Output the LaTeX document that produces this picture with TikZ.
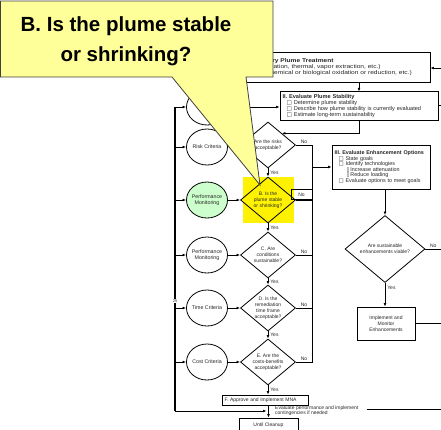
\documentclass[tikz,border=0pt]{standalone}
\usepackage{fontspec}
\setmainfont{Liberation Sans}
\newfontfamily\symfont{DejaVu Sans}
\newfontfamily\widefont[FakeStretch=1.2]{Liberation Sans}
\usetikzlibrary{arrows.meta, shapes.geometric}
\definecolor{mint}{HTML}{CCFFCC}
\definecolor{callout}{HTML}{FFFF99}
\newcommand{\bul}{\hspace*{4pt}{\symfont\char"25A1}\hspace{2pt}}
\newcommand{\subbul}{\hspace*{12pt}{\symfont\char"25AF}\hspace{1pt}}

\begin{document}
\begin{tikzpicture}[x=1pt, y=-1pt,
    txt/.style={font=\fontsize{5}{6}\selectfont, text=black!85, align=center},
    crit/.style={ellipse, draw, line width=0.8pt, fill=white, minimum width=41pt, minimum height=36pt, inner sep=0pt},
    dia/.style={diamond, draw, line width=0.8pt, fill=white, minimum width=55pt, minimum height=46pt, inner sep=0pt},
    box/.style={draw, line width=0.8pt, fill=white, inner sep=2.5pt, align=left, font=\fontsize{5}{6}\selectfont, text=black!85},
    flow/.style={line width=0.7pt, -{Latex[length=3.5pt, width=2.8pt]}},
    bus/.style={line width=1.2pt},
    yes/.style={font=\fontsize{5}{6}\selectfont, text=black!85, right, inner sep=2pt},
    no/.style={font=\fontsize{5}{6}\selectfont, text=black!85, above, inner sep=1pt}]

    \useasboundingbox (0,0) rectangle (441,429);

    \fill[yellow] (243,177) rectangle (294,223);

    \node (b1) [box, minimum width=185pt, minimum height=30pt, text width=180pt, font=\widefont\fontsize{5.5}{5.6}\selectfont] at (337.5,67)
        {\hspace*{1pt}\textbf{I. Primary Plume Treatment}\\ \hspace*{-31pt}\bul Physical (excavation, thermal, vapor extraction, etc.)\\ \hspace*{-23pt}\bul Chemical (chemical or biological oxidation or reduction, etc.)};
    \node (b2) [box, minimum width=158pt, minimum height=28pt, text width=153pt, font=\fontsize{5.6}{6}\selectfont] at (359,106)
        {\textbf{II. Evaluate Plume Stability}\\ \bul Determine plume stability\\ \bul Describe how plume stability is currently evaluated\\ \bul Estimate long-term sustainability};
    \node (b3) [box, minimum width=98pt, minimum height=44pt, text width=93pt, font=\fontsize{5.4}{5.6}\selectfont] at (381,167)
        {\textbf{III. Evaluate Enhancement Options}\\ \bul State goals\\ \bul Identify technologies\\ \subbul Increase attenuation\\ \subbul Reduce loading\\ \bul Evaluate options to meet goals};

    \node (c0) [crit] at (207,107) {};
    \node (c1) [crit, label={[txt, font=\fontsize{5.3}{6.3}\selectfont]center:Risk Criteria}] at (207,147) {};
    \node (c2) [crit, fill=mint, label={[txt, font=\fontsize{5.3}{6.3}\selectfont]center:{Performance\\Monitoring}}] at (207,200) {};
    \node (c3) [crit, label={[txt, font=\fontsize{5.3}{6.3}\selectfont]center:{Performance\\Monitoring}}] at (207,255) {};
    \node (c4) [crit, label={[txt, font=\fontsize{5.3}{6.3}\selectfont]center:Time Criteria}] at (207,308) {};
    \node (c5) [crit, label={[txt, font=\fontsize{5.3}{6.3}\selectfont]center:Cost Criteria}] at (207,362) {};

    \node (d1) [dia, label={[txt]center:{Are the risks\\acceptable?}}] at (268,145) {};
    \node (d2) [dia, fill=yellow, label={[txt]center:{B. Is the\\plume stable\\or shrinking?}}] at (268,200) {};
    \node (d3) [dia, label={[txt]center:{C. Are\\conditions\\sustainable?}}] at (268,255) {};
    \node (d4) [dia, label={[txt]center:{D. Is the\\remediation\\time frame\\acceptable?}}] at (268,308) {};
    \node (d5) [dia, label={[txt]center:{E. Are the\\costs-benefits\\acceptable?}}] at (268,362) {};

    \node (df) [dia, minimum width=80pt, minimum height=67pt, label={[txt]center:{Are sustainable\\enhancements viable?}}] at (385,249) {};
    \node (imp) [box, align=center, minimum width=58pt, minimum height=33pt] at (386,323.5) {Implement and\\Monitor\\Enhancements};

    \node (fbox) [box, minimum width=86pt, minimum height=10pt, text width=81pt, inner ysep=1pt] at (265,400) {F. Approve and Implement MNA};
    \node (uc) [box, align=center, minimum width=59pt, minimum height=14pt] at (268.5,425) {Until Cleanup};
    \node (ev) [txt, align=left, anchor=west, inner sep=0pt, font=\fontsize{5}{5.5}\selectfont] at (275,410.5) {Evaluate performance and implement\\contingencies if needed};
    \node (no2) [draw, line width=0.7pt, font=\fontsize{5}{6}\selectfont, text=black!85, minimum width=21pt, minimum height=10pt, inner sep=0pt] at (301.5,194.5) {No};

    \coordinate (lt) at (175,107);
    \coordinate (lb) at (175,411);
    \coordinate (nt) at (312,145);
    \coordinate (r1) at (441,68);
    \coordinate (r2) at (441,105);
    \coordinate (rf) at (441,249);
    \coordinate (r3) at (441,409);

    \draw[bus] (lt) -- (lb);
    \node (pg) [fill=white, inner sep=0.6pt, font=\fontsize{4}{4}\selectfont, text=black!85] at (175,301) {25};
    \foreach \c in {c0,c1,c2,c3,c4,c5}
        \draw[flow, line width=1pt] (lt |- \c) -- (\c);
    \foreach \c/\d in {c1/d1,c2/d2,c3/d3,c4/d4,c5/d5}
        \draw[flow, line width=1pt] (\c) -- (\d);
    \draw[flow, line width=1pt, shorten >=2pt] (lb) -- (lb -| uc.north);

    \draw[flow] (c0) -- (c0 -| b2.west);
    \draw[flow] (b2.north |- b1.south) -- (b2.north);
    \draw[flow] (b2.south) |- (d1.north east);
    \draw[flow] (r1) -- (r1 -| b1.east);
    \draw[line width=0.7pt] (b2.east |- r2) -- (r2);

    \draw[flow] (d1) -- node[yes] {Yes} (d2);
    \draw[flow] (d2) -- node[yes] {Yes} (d3);
    \draw[flow] (d3) -- node[yes] {Yes} (d4);
    \draw[flow] (d4) -- node[yes] {Yes} (d5);
    \draw[flow] (d5.south) -- node[yes] {Yes} (d5.south |- fbox.north);
    \draw[flow] (uc.north |- fbox.south) -- (uc.north);

    \draw[line width=0.7pt] (d1.east) -- node[no] {No} (d1.east -| nt) -- (d5.east -| nt) -- node[no] {No} (d5.east);
    \draw[line width=0.7pt] (d2.east) -- (d2.east -| nt);
    \draw[line width=0.7pt] (d3.east) -- node[no] {No} (d3.east -| nt);
    \draw[line width=0.7pt] (d4.east) -- node[no] {No} (d4.east -| nt);
    \draw[flow] (b3.west -| nt) -- (b3.west);

    \draw[flow] (df.north |- b3.south) -- (df.north);
    \draw[flow] (df.south) -- node[yes, pos=0.2] {Yes} (df.south |- imp.north);
    \draw[line width=0.7pt] (df.east) -- node[no] {No} (rf);
    \draw[line width=0.7pt] (imp.east) -- (imp.east -| rf);
    \draw[line width=0.7pt] (ev.east |- r3) ++(8,0) -- (r3);

    \draw[draw=black!75, line width=0.8pt, fill=callout] (0.5,1) -- (273,1) -- (273,77) -- (246,77) -- (260,185) -- (172,77) -- (0.5,77) -- cycle;
    \node (ct) [font=\bfseries\fontsize{20.5}{30}\selectfont, align=center] at (126,41) {B. Is the plume stable\\or shrinking?};

\end{tikzpicture}
\end{document}
